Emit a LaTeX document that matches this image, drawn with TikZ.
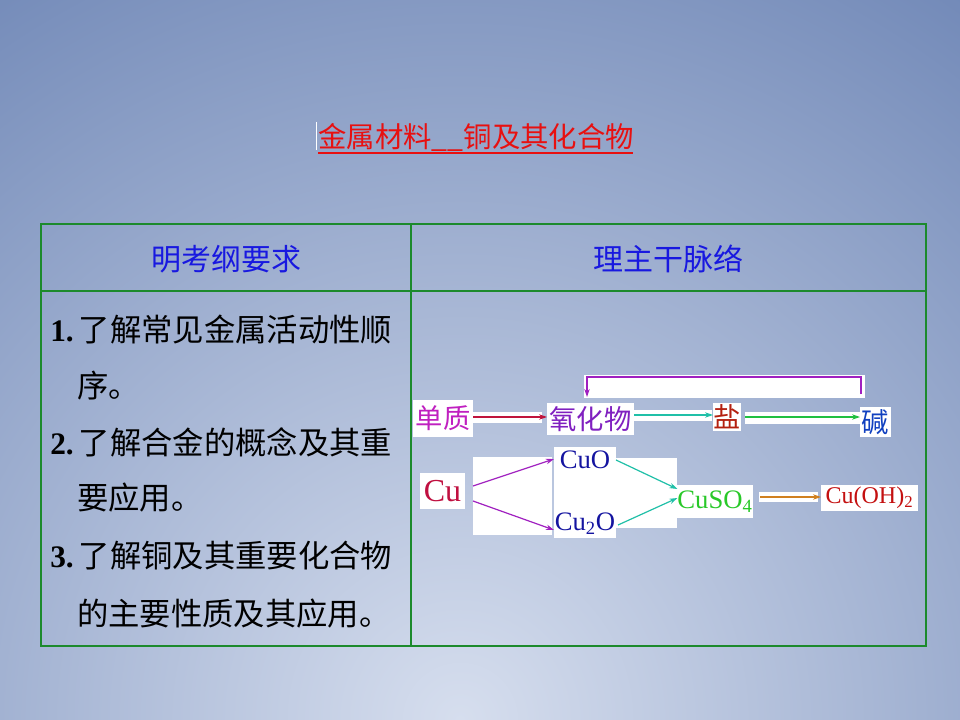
\documentclass[tikz,border=0pt]{standalone}
\usepackage{fontspec}
\setmainfont{Liberation Serif}
\newfontfamily\cjk{Noto Sans CJK SC}
\usetikzlibrary{arrows.meta}
\definecolor{bgdark}{HTML}{5A75AB}
\definecolor{bglight}{HTML}{D6DEEE}
\definecolor{tgreen}{HTML}{1C8A2C}
\definecolor{hblue}{HTML}{1818E0}
\definecolor{tred}{HTML}{E81010}
\definecolor{cmag}{HTML}{C020C0}
\definecolor{cpurp}{HTML}{8020C0}
\definecolor{cbrick}{HTML}{B42010}
\definecolor{cblue}{HTML}{1040C0}
\definecolor{ccrim}{HTML}{C01040}
\definecolor{cnavy}{HTML}{1414A0}
\definecolor{cgreen}{HTML}{28C828}
\definecolor{cdred}{HTML}{C41010}
\definecolor{ateal}{HTML}{20C0A8}
\definecolor{agreen}{HTML}{20C040}
\definecolor{ared}{HTML}{C0143C}
\definecolor{aorange}{HTML}{D08020}
\definecolor{apurp}{HTML}{A020C0}
\begin{document}
\begin{tikzpicture}[x=0.75pt,y=-0.75pt,
  box/.style={fill=white,inner sep=0pt,outer sep=0pt},
  cn/.style={font=\cjk\fontsize{20.5}{24}\selectfont},
  fm/.style={font=\fontsize{20}{24}\selectfont},
  arr/.style={-{Stealth[length=6pt,width=4pt]},line width=0.9pt},
  body/.style={anchor=west,inner sep=0pt,font=\fontsize{23.5}{28}\selectfont},
  head/.style={text=hblue,font=\cjk\fontsize{22.5}{26}\selectfont}]
\useasboundingbox (0,0) rectangle (960,720);
% background
\begin{scope}
\clip (0,0) rectangle (960,720);
\fill[bgdark] (0,0) rectangle (960,720);
\shade[inner color=bglight,outer color=bgdark] (460,720) circle (1100);
\end{scope}
% title
\node[anchor=base west,inner sep=0pt,text=tred,font=\cjk\fontsize{21.3}{26}\selectfont] (title) at (318,148) {金属材料\_\_铜及其化合物};
\draw[tred,line width=1.2pt] (318,153) -- (633,153);
\draw[white,line width=0.6pt] (316,122) -- (316,150);
% table
\draw[tgreen,line width=1.5pt] (41,224) rectangle (926,646);
\draw[tgreen,line width=1.5pt] (411,224) -- (411,646);
\draw[tgreen,line width=1.5pt] (41,291) -- (926,291);
\node[head] (h1) at (226,259) {明考纲要求};
\node[head] (h2) at (668,259) {理主干脉络};
% body text
\node[body] (l1) at (50,330) {\textbf{1.}\,{\cjk 了解常见金属活动性顺}};
\node[body] (l2) at (77,386) {\cjk 序。};
\node[body] (l3) at (50,442) {\textbf{2.}\,{\cjk 了解合金的概念及其重}};
\node[body] (l4) at (77,498) {\cjk 要应用。};
\node[body] (l5) at (50,556) {\textbf{3.}\,{\cjk 了解铜及其重要化合物}};
\node[body] (l6) at (77,614) {\cjk 的主要性质及其应用。};
% white backgrounds
\fill[white] (584,375) rectangle (865,398);
\fill[white] (473,412) rectangle (542,423);
\fill[white] (634,410) rectangle (712,421);
\fill[white] (745,412) rectangle (862,424);
\fill[white] (473,457) rectangle (552,535);
\fill[white] (554,458) rectangle (677,528);
\fill[white] (759,492) rectangle (818,502);
% upper row nodes
\node[box,cn,text=cmag,minimum width=60*0.75pt,minimum height=37*0.75pt] (dz) at (443,418.5) {单质};
\node[box,cn,text=cpurp,minimum width=87*0.75pt,minimum height=32*0.75pt] (yhw) at (590.5,419) {氧化物};
\node[box,cn,text=cbrick,minimum width=28*0.75pt,minimum height=28*0.75pt] (yan) at (727,417) {盐};
\node[box,cn,text=cblue,minimum width=31*0.75pt,minimum height=30*0.75pt] (jian) at (875.5,422) {碱};
\draw[arr,ared] (dz.east |- 0,417) -- (yhw.west |- 0,417);
\draw[arr,ateal] (yhw.east |- 0,415) -- (yan.west |- 0,415);
\draw[arr,agreen] (745,417) -- (jian.west |- 0,417);
% bracket
\coordinate (bR) at (861,394);
\coordinate (bL) at (587,397);
\draw[arr,apurp,line width=0.8pt] (bR) -- (861,377) -| (bL);
% lower row nodes
\node[box,fm,text=ccrim,minimum width=45*0.75pt,minimum height=36*0.75pt,font=\fontsize{24}{28}\selectfont] (cu) at (442.5,491) {Cu};
\node[box,fm,text=cnavy,minimum width=62*0.75pt,minimum height=26*0.75pt] (cuo) at (585,460) {CuO};
\node[box,fm,text=cnavy,minimum width=62*0.75pt,minimum height=28*0.75pt] (cu2o) at (585,524) {Cu\textsubscript{2}O};
\node[box,fm,text=cgreen,minimum width=74*0.75pt,minimum height=33*0.75pt] (cuso4) at (715,501.5) {CuSO\textsubscript{4}};
\node[box,text=cdred,minimum width=97*0.75pt,minimum height=26*0.75pt,font=\fontsize{18}{22}\selectfont] (cuoh) at (869.5,498) {Cu(OH)\textsubscript{2}};
\draw[arr,apurp] (473,486) -- (cuo.west |- 0,459);
\draw[arr,apurp] (473,501) -- (cu2o.west |- 0,530);
\draw[arr,ateal] (616,460) -- (cuso4.west |- 0,489);
\draw[arr,ateal] (618,525) -- (cuso4.west |- 0,498);
\draw[arr,aorange] (760,497) -- (cuoh.west |- 0,497);
\end{tikzpicture}
\end{document}
